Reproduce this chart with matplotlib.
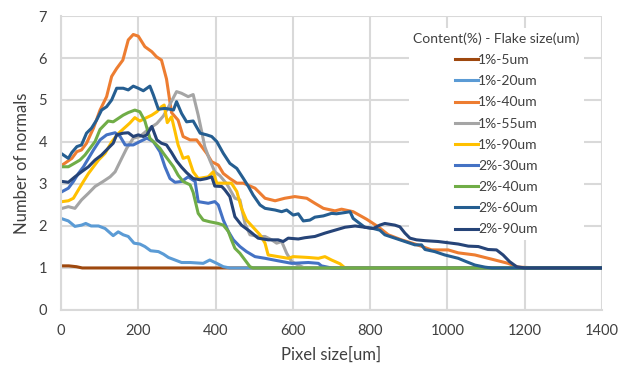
import matplotlib
matplotlib.use("Agg")
import matplotlib.pyplot as plt

plt.rcParams['font.family'] = ['Lato', 'DejaVu Sans']

# series: (x, y) per flake size
x_1_5 = [0, 20, 40, 55, 400, 800, 1400]
y_1_5 = [1.05, 1.05, 1.03, 1.0, 1.0, 1.0, 1.0]

x_1_20 = [3, 19, 36, 53, 64, 78, 97, 114, 135, 148, 161, 174, 189, 204, 217, 232,
          252, 265, 278, 295, 312, 334, 368, 385, 403, 420, 437, 1400]
y_1_20 = [2.17, 2.12, 1.99, 2.02, 2.06, 2.0, 2.0, 1.94, 1.77, 1.86, 1.79, 1.75, 1.59,
          1.57, 1.51, 1.41, 1.39, 1.33, 1.25, 1.19, 1.13, 1.13, 1.11, 1.19, 1.11, 1.03,
          1.0, 1.0]

x_1_40 = [3, 28, 41, 53, 66, 84, 101, 118, 131, 144, 160, 174, 187, 200, 217, 235,
          247, 260, 273, 286, 303, 316, 334, 351, 364, 377, 390, 407, 420, 437, 455,
          472, 502, 528, 554, 579, 605, 636, 657, 679, 709, 726, 756, 791, 821, 847,
          881, 916, 959, 1002, 1028, 1071, 1123, 1157, 1183, 1240, 1400]
y_1_40 = [3.45, 3.61, 3.77, 3.81, 3.97, 4.33, 4.76, 5.08, 5.56, 5.75, 5.95, 6.43, 6.56,
          6.52, 6.27, 6.15, 6.03, 5.95, 5.5, 4.7, 4.52, 4.13, 4.05, 4.05, 3.89, 3.73,
          3.53, 3.45, 3.25, 3.13, 3.02, 3.02, 2.9, 2.66, 2.6, 2.66, 2.7, 2.66, 2.54,
          2.42, 2.36, 2.4, 2.34, 2.16, 1.98, 1.79, 1.67, 1.57, 1.43, 1.43, 1.36, 1.31,
          1.19, 1.11, 1.02, 1.0, 1.0]

x_1_55 = [3, 19, 36, 53, 71, 88, 109, 127, 140, 157, 170, 187, 204, 230, 248, 265,
          282, 299, 312, 329, 342, 355, 364, 372, 385, 398, 411, 429, 450, 463, 476,
          489, 510, 528, 545, 558, 571, 584, 597, 614, 630, 1400]
y_1_55 = [2.42, 2.46, 2.42, 2.62, 2.78, 2.94, 3.06, 3.17, 3.29, 3.61, 3.85, 4.09, 4.13,
          4.33, 4.44, 4.62, 4.9, 5.2, 5.16, 5.08, 5.13, 4.64, 4.25, 3.89, 3.57, 3.29,
          3.2, 3.0, 2.66, 2.62, 2.06, 1.79, 1.75, 1.75, 1.67, 1.59, 1.63, 1.35, 1.15,
          1.07, 1.0, 1.0]

x_1_90 = [3, 19, 32, 45, 58, 71, 84, 97, 114, 131, 148, 166, 178, 191, 204, 217, 235,
          248, 260, 267, 275, 286, 295, 303, 316, 329, 342, 355, 381, 394, 403, 424,
          441, 455, 467, 480, 497, 515, 528, 536, 562, 588, 601, 640, 666, 683, 700,
          722, 735, 1400]
y_1_90 = [2.58, 2.6, 2.66, 2.86, 3.06, 3.25, 3.41, 3.57, 3.73, 4.0, 4.2, 4.35, 4.45,
          4.58, 4.5, 4.56, 4.64, 4.72, 4.84, 4.88, 4.46, 4.6, 4.25, 3.93, 3.61, 3.65,
          3.29, 3.13, 3.17, 3.29, 3.02, 3.02, 3.02, 2.82, 2.42, 2.14, 1.97, 1.79, 1.59,
          1.31, 1.27, 1.23, 1.27, 1.25, 1.23, 1.27, 1.19, 1.1, 1.0, 1.0]

x_2_30 = [3, 19, 32, 45, 58, 71, 84, 101, 118, 140, 153, 166, 187, 204, 222, 239, 256,
          269, 282, 295, 312, 329, 347, 355, 381, 398, 407, 420, 433, 446, 463, 480,
          502, 528, 562, 597, 640, 666, 674, 700, 1400]
y_2_30 = [2.82, 2.9, 3.06, 3.25, 3.41, 3.61, 3.81, 4.05, 4.17, 4.22, 4.13, 3.93, 3.93,
          4.01, 4.09, 4.01, 3.77, 3.41, 3.13, 3.04, 3.06, 3.17, 3.06, 2.58, 2.54, 2.58,
          2.5, 2.14, 1.87, 1.67, 1.51, 1.39, 1.27, 1.23, 1.17, 1.11, 1.13, 1.11, 1.05,
          1.0, 1.0]

x_2_40 = [3, 19, 36, 49, 62, 75, 88, 101, 122, 135, 148, 161, 174, 191, 204, 217, 230,
          243, 256, 265, 278, 291, 303, 316, 334, 342, 355, 368, 385, 407, 420, 433,
          441, 450, 463, 476, 489, 497, 1400]
y_2_40 = [3.41, 3.41, 3.5, 3.57, 3.69, 3.85, 4.01, 4.3, 4.5, 4.48, 4.56, 4.64, 4.7,
          4.76, 4.72, 4.5, 4.09, 3.97, 3.85, 3.73, 3.57, 3.41, 3.21, 3.06, 2.98, 2.8,
          2.3, 2.14, 2.1, 2.06, 2.02, 1.87, 1.67, 1.47, 1.35, 1.19, 1.03, 1.0, 1.0]

x_2_60 = [3, 19, 28, 41, 53, 66, 79, 92, 105, 118, 131, 144, 161, 174, 187, 200, 213,
          230, 239, 252, 269, 282, 291, 299, 312, 325, 342, 360, 377, 390, 403, 420,
          437, 455, 472, 485, 497, 515, 528, 554, 571, 584, 601, 614, 627, 644, 657,
          679, 700, 713, 735, 748, 756, 773, 786, 808, 825, 838, 864, 890, 916, 933,
          942, 967, 993, 1028, 1049, 1071, 1097, 1115, 1400]
y_2_60 = [3.71, 3.61, 3.75, 3.89, 3.93, 4.21, 4.33, 4.52, 4.76, 4.84, 5.0, 5.28, 5.28,
          5.24, 5.33, 5.28, 5.22, 5.33, 5.12, 4.78, 4.8, 4.78, 4.76, 4.96, 4.68, 4.48,
          4.5, 4.21, 4.17, 4.13, 4.01, 3.73, 3.49, 3.37, 3.13, 2.94, 2.74, 2.5, 2.42,
          2.38, 2.34, 2.38, 2.26, 2.29, 2.12, 2.14, 2.21, 2.24, 2.3, 2.29, 2.32, 2.34,
          2.18, 2.06, 1.97, 1.94, 1.9, 1.79, 1.71, 1.63, 1.55, 1.55, 1.44, 1.39, 1.31,
          1.23, 1.15, 1.07, 1.02, 1.0, 1.0]

x_2_90 = [3, 19, 36, 53, 71, 88, 105, 122, 135, 144, 161, 174, 187, 200, 213, 222, 235,
          248, 260, 273, 286, 299, 312, 325, 342, 360, 377, 390, 398, 416, 424, 437,
          450, 467, 489, 510, 536, 562, 575, 588, 614, 631, 657, 683, 709, 735, 761,
          786, 808, 825, 838, 864, 877, 890, 903, 920, 942, 976, 1002, 1028, 1054,
          1080, 1105, 1127, 1144, 1161, 1179, 1200, 1400]
y_2_90 = [3.06, 3.04, 3.17, 3.29, 3.41, 3.57, 3.69, 3.85, 3.97, 4.17, 4.21, 4.22, 4.13,
          4.17, 4.13, 4.17, 4.37, 4.05, 3.97, 3.93, 3.75, 3.55, 3.4, 3.27, 3.13, 3.1,
          3.13, 3.17, 2.95, 2.94, 2.86, 2.7, 2.22, 2.02, 1.87, 1.71, 1.67, 1.67, 1.63,
          1.71, 1.69, 1.72, 1.75, 1.83, 1.9, 1.97, 2.0, 1.97, 1.94, 2.02, 2.06, 2.02,
          1.98, 1.83, 1.71, 1.67, 1.65, 1.63, 1.6, 1.57, 1.52, 1.51, 1.44, 1.43, 1.31,
          1.15, 1.03, 1.0, 1.0]

labels = ['1%-5um', '1%-20um', '1%-40um', '1%-55um', '1%-90um',
          '2%-30um', '2%-40um', '2%-60um', '2%-90um']
colors = ['#9E480E', '#5B9BD5', '#ED7D31', '#A5A5A5', '#FFC000',
          '#4472C4', '#70AD47', '#255E91', '#264478']
xs = [x_1_5, x_1_20, x_1_40, x_1_55, x_1_90, x_2_30, x_2_40, x_2_60, x_2_90]
ys = [y_1_5, y_1_20, y_1_40, y_1_55, y_1_90, y_2_30, y_2_40, y_2_60, y_2_90]

fig = plt.figure(figsize=(6.33, 3.69), dpi=100)
ax = fig.add_axes([0.0964, 0.16, 0.8546, 0.7966])

for x, y, c, lab in zip(xs, ys, colors, labels):
    ax.plot(x, y, color=c, lw=2.2, label=lab, solid_joinstyle='round')

ax.set_xlim(0, 1400)
ax.set_ylim(0, 7)
ax.set_xticks(range(0, 1401, 200))
ax.set_yticks(range(0, 8))
ax.grid(True, color='#D9D9D9', lw=1.5)
ax.set_axisbelow(True)
for s in ax.spines.values():
    s.set_visible(False)
ax.spines['left'].set_visible(True)
ax.spines['bottom'].set_visible(True)
ax.spines['left'].set_color('#D9D9D9')
ax.spines['bottom'].set_color('#D9D9D9')
ax.spines['left'].set_linewidth(1.5)
ax.spines['bottom'].set_linewidth(1.5)
ax.tick_params(length=0, labelsize=10.5, labelcolor='#404040')
ax.tick_params(axis='x', pad=10)
ax.tick_params(axis='y', pad=10)

ax.set_xlabel('Pixel size[um]', fontsize=12, color='#404040', labelpad=6)
ax.set_ylabel('Number of normals', fontsize=12, color='#404040', labelpad=6)

leg = ax.legend(title='Content(%) - Flake size(um)', loc='upper left',
                bbox_to_anchor=(0.631, 0.982), fontsize=10, title_fontsize=10,
                handlelength=1.6, handletextpad=0.05, labelspacing=0.66,
                frameon=True, facecolor='white', edgecolor='none', framealpha=1,
                borderpad=0.3)
leg.set_zorder(1.5)  # above the grid, below the curves
for t in leg.get_texts():
    t.set_color('#404040')
leg.get_title().set_color('#404040')

fig.savefig('out.png', dpi=100)
